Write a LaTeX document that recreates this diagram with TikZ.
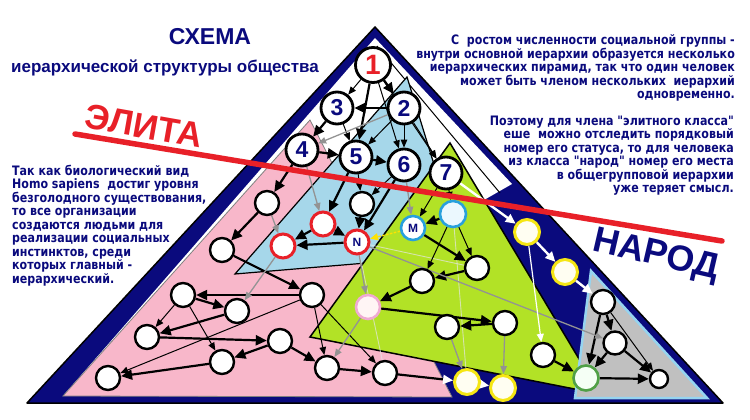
\documentclass[tikz,border=0pt]{standalone}
\usepackage{fontspec}
\setmainfont{Liberation Sans}
\newfontfamily\dvb{DejaVu Sans}[FakeStretch=0.85]
\usetikzlibrary{arrows.meta}
\definecolor{navy}{RGB}{10,10,125}
\definecolor{pinkf}{RGB}{248,183,202}
\definecolor{bluef}{RGB}{166,215,234}
\definecolor{greenf}{RGB}{178,226,38}
\definecolor{grayf}{RGB}{192,192,192}
\definecolor{redl}{RGB}{232,32,40}
\definecolor{ylw}{RGB}{245,230,20}
\definecolor{cyanb}{RGB}{40,160,220}
\definecolor{ltblue}{RGB}{150,212,240}
\definecolor{grn}{RGB}{80,160,70}
\definecolor{pinkb}{RGB}{240,170,210}
\pgfdeclarelayer{bg}
\pgfdeclarelayer{edges}
\pgfsetlayers{bg,edges,main}
\begin{document}
\begin{tikzpicture}[x=1pt,y=-1pt,
  nd/.style={circle,draw=black,line width=2.4pt,fill=white,minimum size=24pt,inner sep=0pt},
  num/.style={nd,minimum size=32pt,line width=2.8pt,font=\bfseries\fontsize{23}{23}\selectfont,text=navy},
  rd/.style={nd,draw=redl,line width=3pt},
  cy/.style={nd,draw=cyanb,line width=2.6pt},
  yl/.style={nd,draw=ylw,line width=3pt,fill=yellow!5,minimum size=25pt},
  pk/.style={nd,draw=pinkb,line width=2.6pt,fill=pink!15},
  gn/.style={nd,draw=grn,line width=2.6pt,fill=green!4,minimum size=25pt},
  lbl/.style={font=\bfseries\fontsize{12}{12}\selectfont,text=navy},
  tk/.style={line width=2.2pt,-{Triangle[length=11pt,width=10pt]}},
  tn/.style={line width=1pt,-{Triangle[length=8pt,width=6.5pt]}},
  gr/.style={line width=1.3pt,draw=gray!85,-{Triangle[length=8pt,width=6.5pt,color=gray!85]}},
  wt/.style={line width=2.4pt,draw=white,-{Triangle[length=10pt,width=9pt,color=white]}},
  wtn/.style={line width=1.2pt,draw=white,-{Triangle[length=8pt,width=7pt,color=white]}},
  faint/.style={line width=0.9pt,draw=white!80!gray,opacity=0.7},
  ptext/.style={font=\dvb\bfseries\fontsize{13}{13}\selectfont,text=navy,inner sep=0pt},
]
\useasboundingbox (0,0) rectangle (750,420);
\begin{pgfonlayer}{bg}
\fill[white] (0,0) rectangle (750,420);
% outer pyramid
\filldraw[fill=navy,draw=black,line width=1.5pt,line join=round] (375,27) -- (27,403) -- (723,403) -- cycle;
\fill[white] (375,38) -- (63,396) -- (310,338) -- (484,200) -- (512,184) -- cycle;
\draw[black,line width=1pt] (377,46) -- (500,193);
% sub-pyramids
\filldraw[fill=pinkf,draw=gray,line width=0.8pt] (310,120) -- (63,396) -- (452,397) -- cycle;
\filldraw[fill=bluef,draw=black,line width=1.2pt] (407,77) -- (235,274) -- (462,255) -- cycle;
\filldraw[fill=greenf,draw=black,line width=1.5pt] (450,143) -- (310,337) -- (600,394) -- cycle;
\filldraw[fill=grayf,draw=ltblue,line width=2.5pt] (591,271) -- (575,398) -- (707,398) -- cycle;
\end{pgfonlayer}

% numbered nodes
\node[num,text=redl,font=\bfseries\fontsize{28}{28}\selectfont,minimum size=35pt] (p1) at (373,65) {1};
\node[num] (p2) at (404,108) {2};
\node[num] (p3) at (337,108) {3};
\node[num] (p4) at (302,150) {4};
\node[num] (p5) at (356,157) {5};
\node[num] (p6) at (404,165) {6};
\node[num] (p7) at (446,173) {7};
% other nodes
\node[nd] (a) at (267,203) {};
\node[nd] (b) at (222,250) {};
\node[nd] (c) at (362,204) {};
\node[rd] (r1) at (323,224) {};
\node[rd] (r2) at (283,246) {};
\node[rd,lbl] (nN) at (357,242) {N};
\node[cy,lbl] (nM) at (413,228) {M};
\node[cy,fill=cyan!8,minimum size=26pt] (mb) at (453,214) {};
\node[nd] (g1) at (477,268) {};
\node[nd] (g2) at (422,281) {};
\node[pk] (pp) at (368,307) {};
\node[nd] (d) at (312,295) {};
\node[nd] (l) at (183,295) {};
\node[nd] (e) at (237,311) {};
\node[nd] (m) at (147,337) {};
\node[nd] (h) at (280,341) {};
\node[nd] (i) at (222,362) {};
\node[nd] (nn) at (108,378) {};
\node[nd] (j) at (327,368) {};
\node[nd] (k) at (385,373) {};
\node[nd] (f) at (447,327) {};
\node[nd] (q) at (505,323) {};
\node[nd] (r) at (543,355) {};
\node[yl] (y1) at (467,382) {};
\node[yl] (y4) at (503,388) {};
\node[yl] (y2) at (527,232) {};
\node[yl] (y3) at (565,272) {};
\node[nd] (s) at (603,302) {};
\node[nd,minimum size=23pt] (t) at (615,343) {};
\node[gn] (u) at (586,378) {};
\node[nd,minimum size=18pt] (v) at (659,379) {};

\begin{pgfonlayer}{edges}
\draw[faint] (nN) -- (g1);
\draw[faint] (nN) -- (k);
\draw[faint] (mb) -- (y1);
% thick
\foreach \u/\w in {p1/p2,p1/p5,p2/p3,p3/p4,p4/p5,p5/p6,p4/a,p5/r1,c/nN,p6/nN,r1/nN,r1/r2,nN/r2,a/b,b/d,d/l,l/e,e/m,m/h,h/i,i/nn,h/j,j/k,mb/nM,nM/g1,g1/g2,g2/pp,pp/q,q/f,r/u,s/u,s/t,t/u,t/v,u/v}
  \draw[tk] (\u) -- (\w);
% thin
\foreach \u/\w in {p1/p3,p1/p6,p1/p7,p3/p5,p2/p5,p2/p6,p2/p7,p5/c,p6/c,p7/nM,p7/mb,mb/g2,mb/g1,l/m,l/i,d/nn,d/j,d/k,s/v}
  \draw[tn] (\u) -- (\w);
% gray
\foreach \u/\w in {p2/p4,p4/r1,a/r2,r2/e,p6/nM,nN/pp,pp/j,nN/t,f/y1,q/y4}
  \draw[gr] (\u) -- (\w);
% yellow
\draw[line width=1.4pt,draw=yellow!85!orange,dash pattern=on 2.5pt off 1.5pt,-{Triangle[length=8pt,width=7pt,color=yellow!85!orange]}] (nM) -- (nN);
% white
\foreach \u/\w in {p7/y2,y2/y3,y3/s,y1/y4}
  \draw[wt] (\u) -- (\w);
\draw[wtn] (y2) -- (r);
\draw[line width=2.2pt,-{Triangle[length=10pt,width=9pt,color=white]}] (k) -- (y1);
\end{pgfonlayer}

% red line
\coordinate (rl1) at (75,134);
\coordinate (rl2) at (722,241);
\draw[redl,line width=5.5pt,line cap=round] (rl1) -- (rl2);

% titles
\node[anchor=base,font=\bfseries\fontsize{23}{23}\selectfont,text=navy,inner sep=0pt] (title) at (210,45) {СХЕМА};
\node[anchor=base,font=\bfseries\fontsize{17}{17}\selectfont,text=navy,inner sep=0pt] (sub) at (165,73) {иерархической структуры общества};
\node[font=\bfseries\fontsize{35}{35}\selectfont,text=redl,rotate=-10,inner sep=0pt] (elite) at (144,126) {ЭЛИТА};
\node[font=\bfseries\fontsize{36}{36}\selectfont,text=navy,rotate=-13,inner sep=0pt] (narod) at (656,256) {НАРОД};

% left paragraph
\foreach \s [count=\n] in {{Так как биологический вид},{Homo sapiens\ \ достиг уровня},{безголодного существования,},{то все организации},{создаются людьми для},{реализации социальных},{инстинктов, среди},{которых главный -},{иерархический.}}
  \node[ptext,anchor=base west] (lp\n) at (12,{175+13.5*(\n-1)}) {\s};

% right paragraph
\foreach \s [count=\n] in {{С\ \ ростом численности социальной группы -},{внутри основной иерархии образуется несколько},{иерархических пирамид, так что один человек},{может быть членом нескольких\ \ иерархий},{одновременно.}}
  \node[ptext,anchor=base east] (ra\n) at (735,{45+13.4*(\n-1)}) {\s};
\foreach \s [count=\n] in {{Поэтому для члена "элитного класса"},{еше\ \ можно отследить порядковый\ },{номер его статуса, то для человека},{из класса "народ" номер его места},{в общегрупповой иерархии},{уже теряет смысл.}}
  \node[ptext,anchor=base east] (rb\n) at (734,{125.4+13.4*(\n-1)}) {\s};
\end{tikzpicture}
\end{document}
